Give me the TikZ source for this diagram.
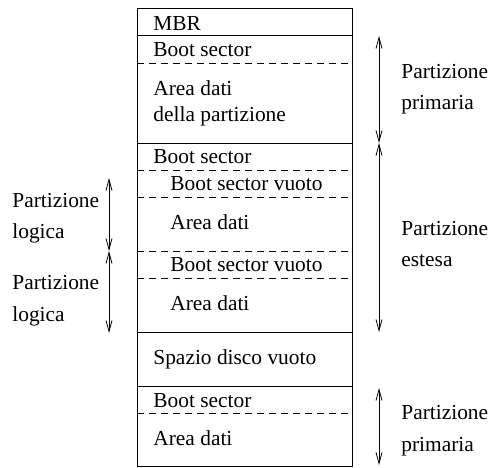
\documentclass[tikz,border=0pt]{standalone}
\usepackage{fontspec}
\setmainfont{Liberation Serif}
\usetikzlibrary{arrows.meta}
\begin{document}
\begin{tikzpicture}[x=1pt, y=-1pt, line width=0.8pt,
  txt/.style = {anchor=base west, inner sep=0pt, font=\fontsize{21.4}{26}\selectfont},
  sep/.style = {dash pattern=on 7pt off 5pt},
  span/.style = {{Straight Barb[length=11pt,width=6pt]}-{Straight Barb[length=11pt,width=6pt]}}]
\useasboundingbox (0,0) rectangle (488,468);
% disk layout
\draw (137,8) rectangle (352,466);
\draw (137,35) -- (352,35);
\draw (137,143) -- (352,143);
\draw (137,332) -- (352,332);
\draw (137,386) -- (352,386);
\draw[sep] (137,63) -- (352,63);
\draw[sep] (137,170) -- (352,170);
\draw[sep] (137,197) -- (352,197);
\draw[sep] (137,251) -- (352,251);
\draw[sep] (137,278) -- (352,278);
\draw[sep] (137,413) -- (352,413);
% contents
\node[txt] (mbr) at (153,31) {MBR};
\node[txt] (bs1) at (153,57) {Boot sector};
\node[txt] (ad1) at (153,96) {Area dati};
\node[txt] (ad1b) at (153,122) {della partizione};
\node[txt] (bs2) at (153,164) {Boot sector};
\node[txt] (bv1) at (170,191) {Boot sector vuoto};
\node[txt] (ad2) at (170,230) {Area dati};
\node[txt] (bv2) at (170,272) {Boot sector vuoto};
\node[txt] (ad3) at (170,310) {Area dati};
\node[txt] (vuoto) at (153,364) {Spazio disco vuoto};
\node[txt] (bs3) at (153,407) {Boot sector};
\node[txt] (ad4) at (153,445) {Area dati};
% labels
\node[txt] (pp1) at (401,79) {Partizione};
\node[txt] (pp1b) at (401,110) {primaria};
\node[txt] (pe) at (401,236) {Partizione};
\node[txt] (peb) at (401,267) {estesa};
\node[txt] (pp2) at (401,419) {Partizione};
\node[txt] (pp2b) at (401,451) {primaria};
\node[txt] (pl1) at (12,208) {Partizione};
\node[txt] (pl1b) at (12,239) {logica};
\node[txt] (pl2) at (12,290) {Partizione};
\node[txt] (pl2b) at (12,322) {logica};
% spans
\coordinate (p1t) at (379,36);
\coordinate (p1b) at (379,143);
\coordinate (eb) at (379,332);
\coordinate (p2t) at (379,388);
\coordinate (p2b) at (379,465);
\coordinate (l1t) at (109,178);
\coordinate (l1b) at (109,251);
\coordinate (l2b) at (109,333);
\draw[span] (p1t) -- (p1b);
\draw[span] (p1b) -- (eb);
\draw[span] (p2t) -- (p2b);
\draw[span] (l1t) -- (l1b);
\draw[span] (l1b) -- (l2b);
\end{tikzpicture}
\end{document}
